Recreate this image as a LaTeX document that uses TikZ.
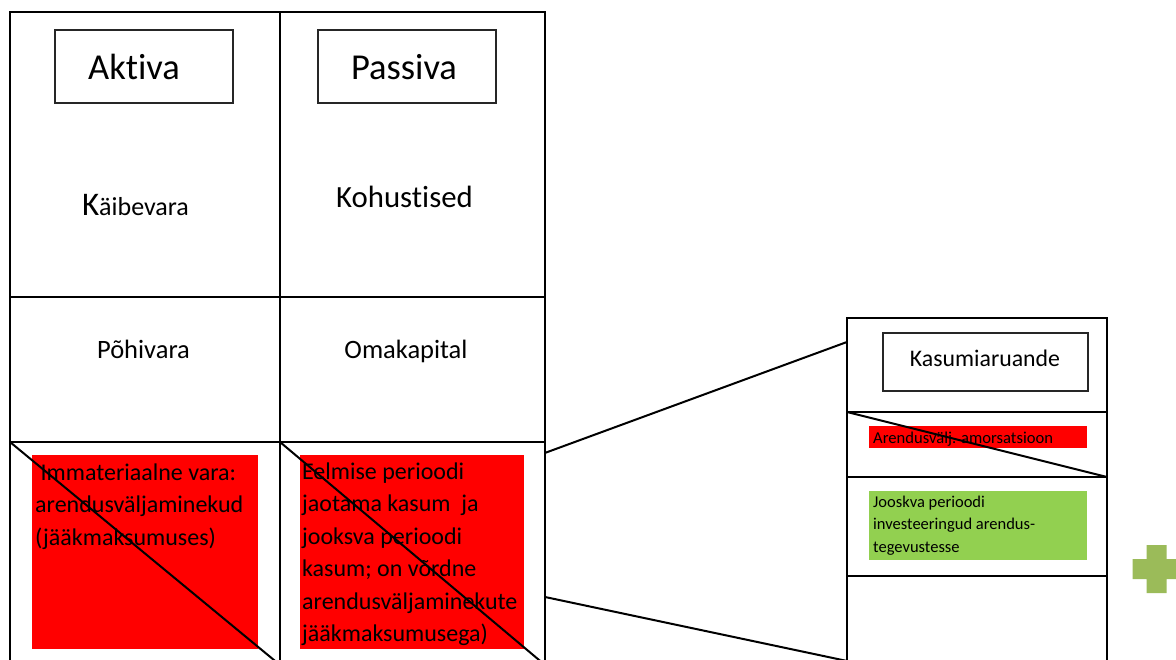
\documentclass[tikz,border=0pt]{standalone}
\usepackage{fontspec}
\setmainfont[Ligatures=NoCommon]{Carlito}
\usetikzlibrary{calc}
\definecolor{plusgreen}{HTML}{9BBB59}
\definecolor{boxgreen}{HTML}{92D050}
\definecolor{boxred}{HTML}{FF0000}
\definecolor{framegray}{HTML}{262626}
\begin{document}
\begin{tikzpicture}[x=1pt,y=-1pt,
  cell/.style={draw=black, line width=2pt, inner sep=0pt, outer sep=0pt},
  titlebox/.style={draw=framegray, line width=2.6pt, inner sep=0pt, outer sep=0pt},
  lbl/.style={inner sep=0pt, anchor=base, text=black},
  fillbox/.style={inner sep=0pt, outer sep=0pt, draw=none, anchor=north west},
  para/.style={inner sep=0pt, anchor=north west, align=left, text=black},
  conn/.style={draw=black, line width=2pt},
  diag/.style={draw=black, line width=2pt}
]
\clip (0,0) rectangle (1176,659);
\fill[white] (0,0) rectangle (1176,659);

% balance sheet cells
\node[cell, minimum width=270, minimum height=285] (a1) at (145,154.5) {};
\node[cell, minimum width=265, minimum height=285] (p1) at (412.5,154.5) {};
\node[cell, minimum width=270, minimum height=145] (a2) at (145,369.5) {};
\node[cell, minimum width=265, minimum height=145] (p2) at (412.5,369.5) {};
\node[cell, minimum width=270, minimum height=223] (a3) at (145,553.5) {};
\node[cell, minimum width=265, minimum height=223] (p3) at (412.5,553.5) {};

% title boxes
\node[titlebox, minimum width=178, minimum height=73] (aktbox) at (144,66.5) {};
\node[titlebox, minimum width=178, minimum height=73] (pasbox) at (407,66.5) {};
\node[lbl, font=\fontsize{36.5}{42}\selectfont] (akt) at (134,79.5) {Aktiva};
\node[lbl, font=\fontsize{36.5}{42}\selectfont] (pas) at (404,79.5) {Passiva};

% row labels
\node[lbl, font=\fontsize{26}{31}\selectfont] (kv) at (135.5,215) {{\fontsize{33}{39}\selectfont K}äibevara};
\node[lbl, font=\fontsize{30.8}{36}\selectfont] (ko) at (404.5,207) {Kohustised};
\node[lbl, font=\fontsize{26.5}{31}\selectfont] (pv) at (143.5,358) {Põhivara};
\node[lbl, font=\fontsize{26.5}{31}\selectfont] (ok) at (406,358) {Omakapital};

% red boxes
\node[fillbox, fill=boxred, minimum width=226, minimum height=194] (r1) at (32,455) {};
\node[fillbox, fill=boxred, minimum width=224, minimum height=194] (r2) at (300,455) {};
\node[para, font=\fontsize{24}{32.5}\selectfont] (t1) at (35,457.25)
  {\strut\ Immateriaalne vara:\\arendusväljaminekud\\(jääkmaksumuses)};
\node[para, font=\fontsize{24}{32.5}\selectfont] (t2) at (302,456.25)
  {\strut Eelmise perioodi\\jaotama kasum~ ja\\jooksva perioodi\\kasum; on võrdne\\arendusväljaminekute\\jääkmaksumusega)};

% diagonals
\draw[diag] (a3.north west) -- (a3.south east);
\draw[diag] (p3.north west) -- (p3.south east);

% income statement panel
\node[cell, minimum width=260, minimum height=94] (k1) at (977,365) {};
\node[cell, minimum width=260, minimum height=65] (k2) at (977,444.5) {};
\node[cell, minimum width=260, minimum height=99] (k3) at (977,526.5) {};
\node[cell, minimum width=260, minimum height=94] (k4) at (977,623) {};
\node[titlebox, minimum width=205, minimum height=58] (kasbox) at (985.5,362) {};
\node[lbl, font=\fontsize{23.8}{28}\selectfont] (kas) at (985,366.5) {Kasumiaruande};

\node[fillbox, fill=boxred, minimum width=218, minimum height=22] (r3) at (869,426) {};
\node[lbl, anchor=base west, font=\fontsize{16.6}{20}\selectfont] (am) at (873,443) {Arendusvälj. amorsatsioon};
\draw[diag] (k2.north west) -- (k2.south east);

\node[fillbox, fill=boxgreen, minimum width=218, minimum height=69] (g1) at (869,491) {};
\node[para, font=\fontsize{16.5}{22.5}\selectfont] (inv) at (873,491.25)
  {\strut Jooskva perioodi\\investeeringud arendus-\\tegevustesse};

% connectors
\draw[conn] ($(p3.north east)!0.049!(p3.south east)$) -- ($(k1.north west)!0.255!(k1.south west)$);
\draw[conn] ($(p3.north east)!0.695!(p3.south east)$) -- ($(k4.north west)!0.904!(k4.south west)$);

% plus sign
\fill[plusgreen] (1146.5,545) -- (1166.5,545) -- (1166.5,559) -- (1180.5,559) -- (1180.5,579)
  -- (1166.5,579) -- (1166.5,593) -- (1146.5,593) -- (1146.5,579) -- (1132.5,579)
  -- (1132.5,559) -- (1146.5,559) -- cycle;
\end{tikzpicture}
\end{document}
